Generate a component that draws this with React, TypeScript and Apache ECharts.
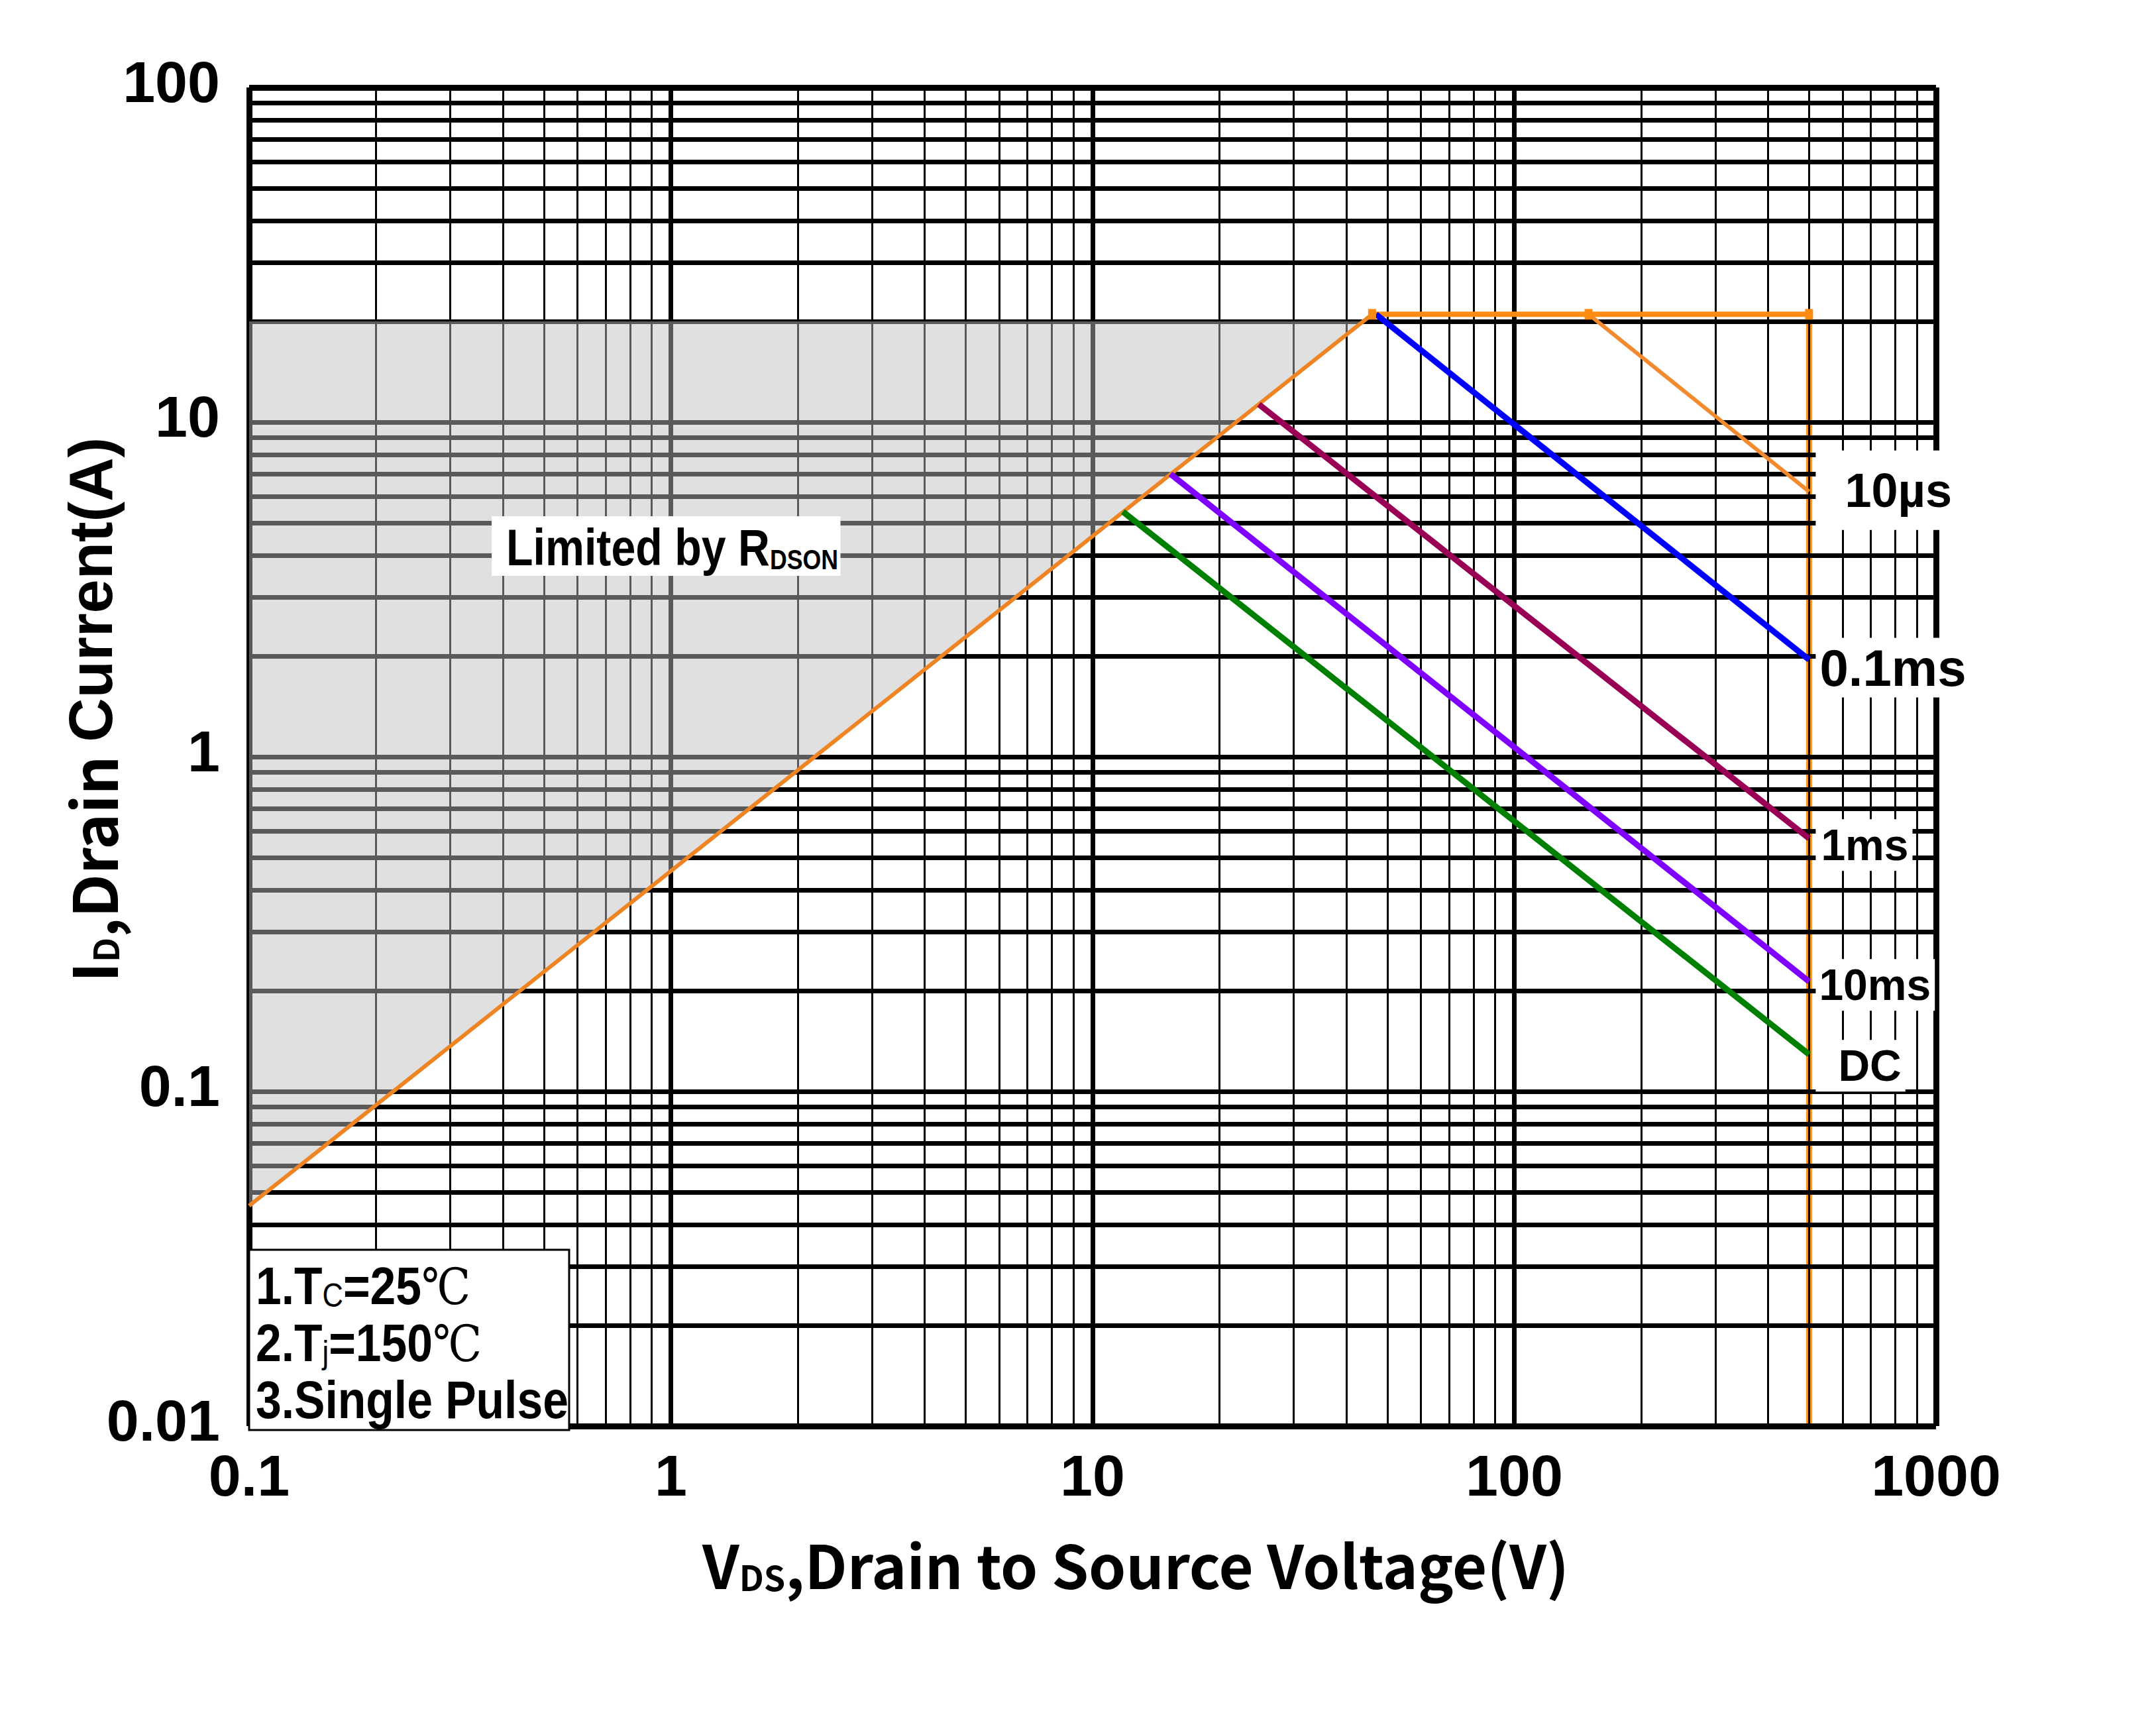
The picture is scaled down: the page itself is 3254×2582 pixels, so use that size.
import React, { useEffect, useRef } from "react";
import * as echarts from "echarts";

const W = 3254;
const H = 2582;

// Axis ranges and tick labels
const X_MIN = 0.1;
const X_MAX = 1000;
const Y_MIN = 0.01;
const Y_MAX = 100;

// Grid lines
const X_MINOR_GRID = [
  0.2, 0.3, 0.4, 0.5, 0.6, 0.7, 0.8, 0.9,
  2, 3, 4, 5, 6, 7, 8, 9,
  20, 30, 40, 50, 60, 70, 80, 90,
  200, 300, 400, 500, 600, 700, 800, 900,
];
const X_MAJOR_GRID = [1, 10, 100];
const Y_GRID = [
  0.02, 0.03, 0.04, 0.05, 0.06, 0.07, 0.08, 0.09, 0.1,
  0.2, 0.3, 0.4, 0.5, 0.6, 0.7, 0.8, 0.9, 1,
  2, 3, 4, 5, 6, 7, 8, 9, 10,
  20, 30, 40, 50, 60, 70, 80, 90,
];
const X_BORDER = [0.1, 1000];
const Y_BORDER = [0.01, 100];

// Safe operating area curves [VDS (V), ID (A)]
const RDSON_LINE = [[0.1, 0.0455], [46, 21]];
const RDSON_REGION = [[0.1, 20], [44, 20], [0.1, 0.0455]];
const LIMIT_TOP = [[46, 21], [150, 21], [500, 21]];
const LIMIT_RIGHT = [[500, 21], [500, 0.01]];
const PULSE_10US = [[150, 21], [500, 6.2]];
const PULSE_100US = [[47, 21], [500, 1.95]];
const PULSE_1MS = [[24.8, 11.3], [500, 0.57]];
const PULSE_10MS = [[15.3, 7.0], [500, 0.213]];
const PULSE_DC = [[11.8, 5.4], [500, 0.129]];

const CURVE_LABELS = ["10µs", "0.1ms", "1ms", "10ms", "DC"];

const NOTES = [
  "{b|1.T}{s|C}{b|=25}{c|℃}",
  "{b|2.T}{s|j}{b|=150}{c|℃}",
  "{b|3.Single Pulse}",
];

const ARIAL = "'Liberation Sans', Arial, sans-serif";
const YAHEI = "'Noto Sans CJK SC', 'Open Sans', sans-serif";

function fmt(v: number) {
  return String(Number(v.toPrecision(4)));
}

function endLabel(text: string, size: number, padding: number[], offset: number[]) {
  return {
    show: true,
    formatter: text,
    fontSize: size,
    fontWeight: "bold",
    fontFamily: ARIAL,
    color: "#000",
    backgroundColor: "#fff",
    padding,
    distance: 10,
    offset,
  };
}

function lineSeries(name: string, data: number[][], color: string, width: number, z: number, extra: any = {}) {
  return {
    name,
    type: "line",
    data,
    z,
    symbol: "none",
    silent: true,
    clip: false,
    lineStyle: { color, width, cap: "butt" },
    ...extra,
  };
}

export default function App() {
  const ref = useRef<HTMLDivElement>(null);

  useEffect(() => {
    const chart = echarts.init(ref.current!, null, { renderer: "svg", width: W, height: H });

    const gridMarks = [
      ...X_MINOR_GRID.map((v) => ({ xAxis: v, lineStyle: { width: 3, color: "#000", type: "solid" } })),
      ...X_MAJOR_GRID.map((v) => ({ xAxis: v, lineStyle: { width: 7, color: "#000", type: "solid" } })),
      ...Y_GRID.map((v) => ({ yAxis: v, lineStyle: { width: 7, color: "#000", type: "solid" } })),
      ...X_BORDER.map((v) => ({ xAxis: v, lineStyle: { width: 9, color: "#000", type: "solid" } })),
      ...Y_BORDER.map((v) => ({ yAxis: v, lineStyle: { width: 9, color: "#000", type: "solid" } })),
    ];

    const option: any = {
      animation: false,
      backgroundColor: "#fff",
      grid: { left: 376, right: 332, top: 132, bottom: 430, containLabel: false },
      xAxis: {
        type: "log",
        logBase: 10,
        min: X_MIN,
        max: X_MAX,
        axisLine: { show: false },
        axisTick: { show: false },
        splitLine: { show: false },
        axisLabel: {
          formatter: (v: number) => fmt(v),
          fontSize: 88,
          fontWeight: "bold",
          fontFamily: ARIAL,
          color: "#000",
          margin: 30,
        },
      },
      yAxis: {
        type: "log",
        logBase: 10,
        min: Y_MIN,
        max: Y_MAX,
        axisLine: { show: false },
        axisTick: { show: false },
        splitLine: { show: false },
        axisLabel: {
          formatter: (v: number) => "{t|" + fmt(v) + "}",
          color: "#000",
          margin: 44,
          rich: {
            t: {
              fontSize: 88,
              lineHeight: 88,
              fontWeight: "bold",
              fontFamily: ARIAL,
              color: "#000",
              padding: [0, 0, 18, 0],
            },
          },
        },
      },
      series: [
        // orange right boundary drawn under the grid lines
        lineSeries("limitRight", LIMIT_RIGHT, "#F7941D", 9, 0),
        {
          name: "grid",
          type: "line",
          data: [],
          z: 1,
          silent: true,
          clip: false,
          symbol: "none",
          markLine: {
            z: 1,
            silent: true,
            symbol: ["none", "none"],
            label: { show: false },
            lineStyle: { type: "solid", color: "#000" },
            emphasis: { disabled: true },
            data: gridMarks,
          },
        },
        {
          name: "rdsonRegion",
          type: "custom",
          z: 2,
          silent: true,
          data: [RDSON_REGION[0]],
          renderItem: (_p: any, api: any) => ({
            type: "polygon",
            shape: { points: RDSON_REGION.map((p) => api.coord(p)) },
            style: { fill: "rgba(190,190,190,0.475)" },
          }),
        },
        lineSeries("rdson", RDSON_LINE, "#EF8423", 6, 3),
        lineSeries("limitTop", LIMIT_TOP, "#FF8C12", 8, 3, {
          symbol: "rect",
          symbolSize: [12, 16],
          itemStyle: { color: "#FF8C12" },
        }),
        lineSeries("10us", PULSE_10US, "#F28A30", 6, 3, {
          endLabel: endLabel(CURVE_LABELS[0], 72, [24, 12, 24, 44], [0, -2]),
        }),
        lineSeries("0.1ms", PULSE_100US, "#0000FF", 9, 3, {
          endLabel: endLabel(CURVE_LABELS[1], 78, [6, 6, 6, 6], [0, 12]),
        }),
        lineSeries("1ms", PULSE_1MS, "#990055", 9, 3, {
          endLabel: endLabel(CURVE_LABELS[2], 66, [6, 6, 6, 8], [0, 10]),
        }),
        lineSeries("10ms", PULSE_10MS, "#8000FF", 9, 3, {
          endLabel: endLabel(CURVE_LABELS[3], 66, [6, 6, 6, 5], [0, 5]),
        }),
        lineSeries("DC", PULSE_DC, "#008000", 9, 3, {
          endLabel: endLabel(CURVE_LABELS[4], 66, [6, 6, 6, 34], [0, 17]),
        }),
      ],
      graphic: [
        {
          type: "text",
          z: 20,
          x: 742,
          y: 824,
          scaleX: 0.85,
          style: {
            text: "{a|Limited by R}{b|DSON}",
            verticalAlign: "middle",
            align: "left",
            backgroundColor: "#fff",
            padding: [8, 4, 4, 26],
            rich: {
              a: { fontSize: 78, fontWeight: "bold", fontFamily: ARIAL, fill: "#000", verticalAlign: "bottom" },
              b: { fontSize: 42, fontWeight: "bold", fontFamily: ARIAL, fill: "#000", verticalAlign: "bottom" },
            },
          },
        },
        {
          type: "rect",
          z: 20,
          shape: { x: 376, y: 1886, width: 483, height: 272 },
          style: { fill: "#fff", stroke: "#000", lineWidth: 3 },
        },
        ...NOTES.map((t, i) => ({
          type: "text",
          z: 21,
          x: 386,
          y: 1940 + i * 86,
          scaleX: 0.87,
          style: {
            text: t,
            verticalAlign: "middle",
            align: "left",
            rich: {
              b: { fontSize: 80, fontWeight: "bold", fontFamily: ARIAL, fill: "#000", verticalAlign: "bottom" },
              s: { fontSize: 50, fontWeight: "normal", fontFamily: ARIAL, fill: "#000", verticalAlign: "bottom" },
              c: { fontSize: 76, fontWeight: "normal", fontFamily: "'DejaVu Serif', serif", fill: "#000", verticalAlign: "bottom" },
            },
          },
        })),
        {
          type: "text",
          z: 20,
          x: 1714,
          y: 2359,
          style: {
            text: "{a|V}{b|DS}{a|,Drain to Source Voltage(V)}",
            align: "center",
            verticalAlign: "middle",
            rich: {
              a: { fontSize: 90, fontWeight: "bold", fontFamily: YAHEI, fill: "#000", verticalAlign: "bottom" },
              b: { fontSize: 52, fontWeight: "bold", fontFamily: YAHEI, fill: "#000", verticalAlign: "bottom" },
            },
          },
        },
        {
          type: "text",
          z: 20,
          x: 137,
          y: 1071,
          rotation: Math.PI / 2,
          style: {
            text: "{a|I}{b|D}{a|,Drain }{c|Current(A)}",
            align: "center",
            verticalAlign: "middle",
            rich: {
              a: { fontSize: 92, fontWeight: "bold", fontFamily: YAHEI, fill: "#000", verticalAlign: "bottom" },
              b: { fontSize: 52, fontWeight: "bold", fontFamily: YAHEI, fill: "#000", verticalAlign: "bottom" },
              c: { fontSize: 92, fontWeight: "bold", fontFamily: ARIAL, fill: "#000", verticalAlign: "bottom" },
            },
          },
        },
      ],
    };

    chart.setOption(option);
    return () => chart.dispose();
  }, []);

  return (
    <div
      ref={ref}
      style={{ position: "fixed", left: 0, top: 0, width: W, height: H, background: "#fff" }}
    />
  );
}
